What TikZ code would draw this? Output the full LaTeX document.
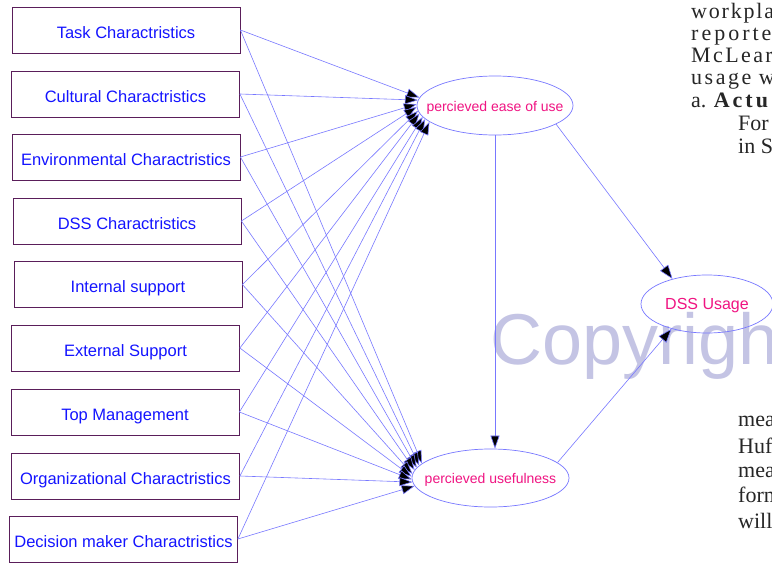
\documentclass[tikz,border=0pt]{standalone}
\usepackage{fontspec}
\setmainfont{Liberation Sans}
\newfontfamily\seriffont{Liberation Serif}
\usetikzlibrary{arrows.meta,shapes.geometric}
\definecolor{boxborder}{RGB}{90,30,90}
\definecolor{boxtext}{RGB}{20,20,255}
\definecolor{linecol}{RGB}{120,120,255}
\definecolor{pinktext}{RGB}{240,20,130}
\definecolor{wmark}{RGB}{196,196,228}
\newcommand{\lsp}[2]{\def\lspk{#1}\lspdo#2\relax}
\def\lspdo#1{\ifx#1\relax\else#1\kern\lspk\expandafter\lspdo\fi}
\newcommand{\boxtxt}[1]{\raisebox{-8pt}[0pt][0pt]{#1}}
\begin{document}
\begin{tikzpicture}[x=1pt,y=-1pt,
 factor/.style={draw=boxborder, line width=0.8pt, minimum width=228pt, minimum height=46pt, inner sep=0pt, text=boxtext, font=\fontsize{16.5}{20}\selectfont},
 construct/.style={ellipse, draw=linecol, line width=0.7pt, inner sep=0pt},
 clabel/.style={text=pinktext, font=\fontsize{14}{17}\selectfont, yshift=-2pt},
 link/.style={draw=linecol, line width=0.6pt, -{Triangle[length=13pt,width=9pt,fill=black]}},
 biglink/.style={draw=linecol, line width=0.6pt, -{Triangle[length=14pt,width=10pt,fill=black]}},
 body/.style={anchor=base west, inner sep=0pt, font=\seriffont\fontsize{22}{26}\selectfont, text=black!85}
]
\useasboundingbox (0,0) rectangle (772,563);
\begin{scope}
\clip (0,0) rectangle (772,563);
\fill[white] (0,0) rectangle (772,563);
\node[anchor=base west, inner sep=0pt, text=wmark, font=\fontsize{72}{72}\selectfont] (wm) at (490,364) {Copyright};

\node[factor] (f1) at (126,30) {\boxtxt{Task Charactristics}};
\node[factor] (f2) at (125.5,94) {\boxtxt{Cultural Charactristics}};
\node[factor] (f3) at (126,157) {\boxtxt{Environmental Charactristics}};
\node[factor] (f4) at (127,221) {\boxtxt{DSS Charactristics}};
\node[factor] (f5) at (128,284.5) {\boxtxt{Internal support}};
\node[factor] (f6) at (125.5,348) {\boxtxt{External Support}};
\node[factor] (f7) at (125,412) {\boxtxt{Top Management}};
\node[factor] (f8) at (125.5,476) {\boxtxt{Organizational Charactristics}};
\node[factor] (f9) at (123.5,539) {\boxtxt{Decision maker Charactristics}};

\node[construct, minimum width=156pt, minimum height=59pt, label={[clabel]center:percieved ease of use}] (e1) at (495,105.5) {};
\node[construct, minimum width=157pt, minimum height=58pt, label={[clabel]center:percieved usefulness}] (e2) at (490.5,478) {};
\node[construct, minimum width=132pt, minimum height=58pt, label={[clabel, font=\fontsize{16}{19}\selectfont]center:DSS Usage}] (e3) at (707,304) {};

\foreach \i/\a/\b in {1/174/168, 2/176.5/170.25, 3/179/172.5, 4/181.5/174.75, 5/184/177, 6/186.5/179.25, 7/189/181.5, 8/191.5/183.75, 9/194/186}{
  \draw[link] (f\i.east) -- (e1.\a);
  \draw[link] (f\i.east) -- (e2.\b);
}
\draw[link] (e1.south) -- (e1.south |- e2.north);
\draw[biglink] (e1.-17.5) -- (e3.144.8);
\draw[biglink] (e2.13) -- (e3.215.2);

\node[body] (t1) at (691,18) {\lsp{1.8pt}{workpla}};
\node[body] (t2) at (691,40) {\lsp{3pt}{reporte}};
\node[body] (t3) at (691,62) {\lsp{2.4pt}{McLear}};
\node[body] (t4) at (691,84) {\lsp{2.5pt}{usage}\kern5pt w};
\node[body] (t5) at (691,107) {a. \textbf{\lsp{3pt}{Actu}}};
\node[body] (t6) at (738,130) {For};
\node[body] (t7) at (738,153) {in S};
\node[body] (t8) at (738,426) {mea};
\node[body] (t9) at (738,453) {Huf};
\node[body] (t10) at (738,477) {mea};
\node[body] (t11) at (738,502) {form};
\node[body] (t12) at (738,528) {will};
\end{scope}
\end{tikzpicture}
\end{document}
